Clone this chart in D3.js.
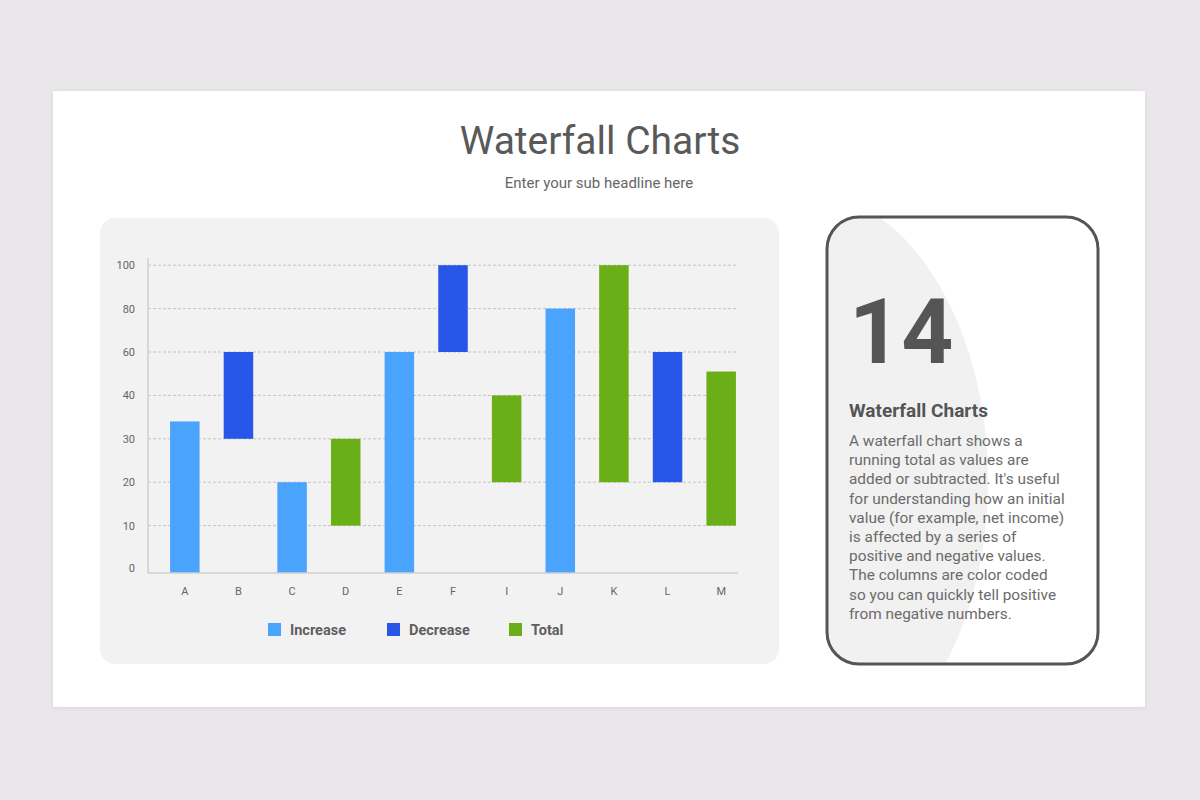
<!DOCTYPE html>
<html>
<head>
<meta charset="utf-8">
<script src="https://cdn.jsdelivr.net/npm/d3@7"></script>
<style>
  html, body { margin: 0; padding: 0; background: #e9e7e9; }
  svg { display: block; font-family: Roboto, "Noto Sans", sans-serif; }
</style>
</head>
<body>
<div id="chart"></div>
<script>
// ---- data ----
const categories = ["A", "B", "C", "D", "E", "F", "I", "J", "K", "L", "M"];
const barStart   = [0, 30, 0, 10, 0, 60, 20, 0, 20, 20, 10];
const barEnd     = [34, 60, 20, 30, 60, 100, 40, 80, 100, 60, 51];
const barType    = ["Increase", "Decrease", "Increase", "Total", "Increase", "Decrease",
                    "Total", "Increase", "Total", "Decrease", "Total"];
const yTicks     = [0, 10, 20, 30, 40, 60, 80, 100];
const seriesNames = ["Increase", "Decrease", "Total"];
const seriesColors = ["#4aa3fc", "#2756e9", "#6aaf18"];

const paragraph = [
    "A waterfall chart shows a",
    "running total as values are",
    "added or subtracted. It's useful",
    "for understanding how an initial",
    "value (for example, net income)",
    "is affected by a series of",
    "positive and negative values.",
    "The columns are color coded",
    "so you can quickly tell positive",
    "from negative numbers."
];

const bars = categories.map((c, i) => ({
    cat: c, start: barStart[i], end: barEnd[i], type: barType[i]
}));

const W = 1200, H = 800;
const svg = d3.select("#chart").append("svg")
    .attr("width", W).attr("height", H);

// shadow for the slide card
const defs = svg.append("defs");
const f = defs.append("filter").attr("id", "shadow")
    .attr("x", "-5%").attr("y", "-5%").attr("width", "110%").attr("height", "110%");
f.append("feDropShadow").attr("dx", 0).attr("dy", 1).attr("stdDeviation", 2)
    .attr("flood-color", "#000").attr("flood-opacity", 0.08);

// white slide
svg.append("rect")
    .attr("x", 53).attr("y", 91).attr("width", 1092).attr("height", 616)
    .attr("fill", "#fff").attr("filter", "url(#shadow)");

// headline
svg.append("text")
    .attr("x", 600).attr("y", 154).attr("text-anchor", "middle")
    .attr("fill", "#595959").style("font-size", "39px")
    .text("Waterfall Charts");

svg.append("text")
    .attr("x", 599).attr("y", 188).attr("text-anchor", "middle")
    .attr("fill", "#666").style("font-size", "15px")
    .text("Enter your sub headline here");

// -----------------------------
// CHART PANEL
// -----------------------------
svg.append("rect")
    .attr("x", 100).attr("y", 218).attr("width", 679).attr("height", 446)
    .attr("rx", 15).attr("fill", "#f2f2f2");

const plotLeft = 148, plotRight = 738, plotBottom = 573;

// tick values are not evenly spread, but the gridlines are:
// piecewise scale, one equal step per tick (the zero line sits a little lower)
const yStep = 43.4, yTop = 265.2;
const y = d3.scaleLinear()
    .domain(yTicks)
    .range(yTicks.map((d, i) =>
        i === 0 ? plotBottom : yTop + (yTicks.length - 1 - i) * yStep));

const x = d3.scaleBand()
    .domain(categories)
    .range([158, 748])
    .paddingInner(0.45)
    .paddingOuter(0.225);

const g = svg.append("g");

// gridlines
g.selectAll(".grid")
    .data(yTicks.slice(1))
    .join("line")
    .attr("class", "grid")
    .attr("x1", plotLeft).attr("x2", plotRight)
    .attr("y1", d => y(d)).attr("y2", d => y(d))
    .attr("stroke", "#c4c4c4").attr("stroke-width", 1)
    .attr("stroke-dasharray", "3,2");

// y axis
const yAxis = g.append("g")
    .attr("transform", `translate(${plotLeft},0)`)
    .call(d3.axisLeft(y).tickValues(yTicks).tickSize(0).tickPadding(13));
yAxis.select(".domain").remove();
yAxis.selectAll("text")
    .attr("fill", "#666").style("font-size", "11px")
    .style("font-family", "Roboto, sans-serif");
yAxis.selectAll("text").filter(d => d === 0).attr("dy", "-0.1em");

g.append("line")
    .attr("x1", plotLeft).attr("x2", plotLeft)
    .attr("y1", 258).attr("y2", plotBottom)
    .attr("stroke", "#cfcfcf").attr("stroke-width", 1.5);

// bars
const color = d3.scaleOrdinal().domain(seriesNames).range(seriesColors);
g.selectAll(".bar")
    .data(bars)
    .join("rect")
    .attr("class", "bar")
    .attr("x", d => x(d.cat))
    .attr("width", x.bandwidth())
    .attr("y", d => y(d.end))
    .attr("height", d => y(d.start) - y(d.end))
    .attr("fill", d => color(d.type));

// x axis
g.append("line")
    .attr("x1", plotLeft).attr("x2", plotRight)
    .attr("y1", plotBottom).attr("y2", plotBottom)
    .attr("stroke", "#cfcfcf").attr("stroke-width", 1.5);

const xAxis = g.append("g")
    .attr("transform", `translate(0,${plotBottom})`)
    .call(d3.axisBottom(x).tickSize(0).tickPadding(14));
xAxis.select(".domain").remove();
xAxis.selectAll("text")
    .attr("fill", "#666").style("font-size", "11px")
    .style("font-family", "Roboto, sans-serif");

// legend
const legendX = [268, 387, 509];
const legend = g.selectAll(".legend")
    .data(seriesNames)
    .join("g")
    .attr("class", "legend")
    .attr("transform", (d, i) => `translate(${legendX[i]},623)`);
legend.append("rect")
    .attr("width", 13).attr("height", 13)
    .attr("fill", d => color(d));
legend.append("text")
    .attr("x", 22).attr("y", 12)
    .attr("fill", "#5f5f5f").style("font-size", "14.5px").style("font-weight", "bold")
    .text(d => d);

// -----------------------------
// INFO CARD
// -----------------------------
defs.append("clipPath").attr("id", "cardClip")
    .append("rect")
    .attr("x", 827).attr("y", 217).attr("width", 271).attr("height", 447).attr("rx", 32);

svg.append("ellipse")
    .attr("cx", 800).attr("cy", 480).attr("rx", 188).attr("ry", 290)
    .attr("fill", "#f1f1f1").attr("clip-path", "url(#cardClip)");

svg.append("rect")
    .attr("x", 827).attr("y", 217).attr("width", 271).attr("height", 447).attr("rx", 32)
    .attr("fill", "none").attr("stroke", "#555").attr("stroke-width", 3);

svg.append("text")
    .attr("x", 849).attr("y", 363)
    .attr("fill", "#555").style("font-size", "91px").style("font-weight", "bold")
    .text("14");

svg.append("text")
    .attr("x", 849).attr("y", 417)
    .attr("fill", "#555").style("font-size", "19px").style("font-weight", "bold")
    .text("Waterfall Charts");

svg.append("text")
    .attr("fill", "#6b6b6b").style("font-size", "15.4px")
    .selectAll("tspan")
    .data(paragraph)
    .join("tspan")
    .attr("x", 849)
    .attr("y", (d, i) => 446 + i * 19.2)
    .text(d => d);
</script>
</body>
</html>
